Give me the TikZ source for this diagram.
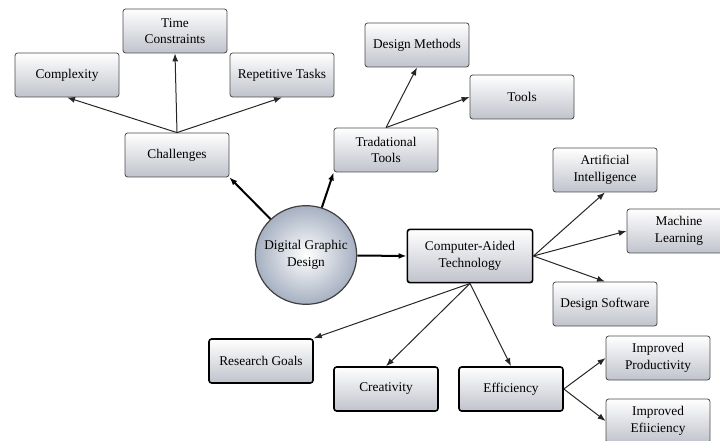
\documentclass[tikz,border=0pt]{standalone}
\usepackage{fontspec}
\setmainfont{Liberation Serif}
\usetikzlibrary{shapes,arrows.meta}
\definecolor{boxgrey}{RGB}{192,195,204}
\definecolor{ballgrey}{RGB}{166,176,193}

\begin{document}
\begin{tikzpicture}[x=0.75pt,y=-0.75pt]
  \tikzstyle{topic}=[rectangle,draw=black!70,line width=0.6pt,rounded corners=2pt,top color=white,bottom color=boxgrey,minimum width=78pt,minimum height=33pt,inner sep=2pt,align=center,font=\fontsize{10}{12.5}\selectfont]
  \tikzstyle{main}=[topic,draw=black,line width=1.2pt]
  \tikzstyle{link}=[-{Latex[length=6pt,width=4.5pt]},black!85,line width=0.75pt]
  \tikzstyle{bold link}=[link,black,line width=1.5pt]
  \useasboundingbox (0,0) rectangle (720,441);

  \node[ellipse,draw=black!75,line width=0.9pt,inner color=white,outer color=ballgrey,minimum width=76pt,minimum height=74pt,inner sep=0pt] (dgd) at (306,255) {};
  \node[align=center,font=\fontsize{10}{12.5}\selectfont] (dgdtext) at (dgd.center) {Digital Graphic\\Design};
  \node[main,minimum width=94pt,minimum height=40pt] (cat) at (470,256) {Computer-Aided\\Technology};

  \node[topic] (challenges) at (177,155) {Challenges};
  \node[topic] (complexity) at (67,75) {Complexity};
  \node[topic] (time) at (175,31) {Time\\Constraints};
  \node[topic] (repetitive) at (282,75) {Repetitive Tasks};

  \node[topic] (trad) at (386,150) {Tradational\\Tools};
  \node[topic] (methods) at (417,45) {Design Methods};
  \node[topic] (tools) at (522,97) {Tools};

  \node[topic] (ai) at (605,170) {Artificial\\Intelligence};
  \node[topic] (ml) at (679,231) {Machine\\Learning};
  \node[topic] (software) at (605,304) {Design Software};

  \node[main] (goals) at (261,361) {Research Goals};
  \node[main] (creativity) at (386,389) {Creativity};
  \node[main] (efficiency) at (511,389) {Efficiency};
  \node[topic] (productivity) at (658,358) {Improved\\Productivity};
  \node[topic] (improved) at (658,421) {Improved\\Efiiciency};

  \draw[bold link] (dgd) -- (challenges.south east);
  \draw[bold link] (dgd) -- (trad.south west);
  \draw[bold link] (dgd) -- (cat.west);

  \draw[link] (challenges.north) -- (complexity.south);
  \draw[link] (challenges.north) -- (time.south);
  \draw[link] (challenges.north) -- (repetitive.south);

  \draw[link] (trad.north) -- (methods.south);
  \draw[link] (trad.north) -- (tools.west);

  \draw[link] (cat.east) -- (ai.south);
  \draw[link] (cat.east) -- (ml.west);
  \draw[link] (cat.east) -- (software.north);

  \draw[link] (cat.south) -- (goals.north east);
  \draw[link] (cat.south) -- (creativity.north);
  \draw[link] (cat.south) -- (efficiency.north);

  \draw[link] (efficiency.east) -- (productivity.west);
  \draw[link] (efficiency.east) -- (improved.west);
\end{tikzpicture}
\end{document}
